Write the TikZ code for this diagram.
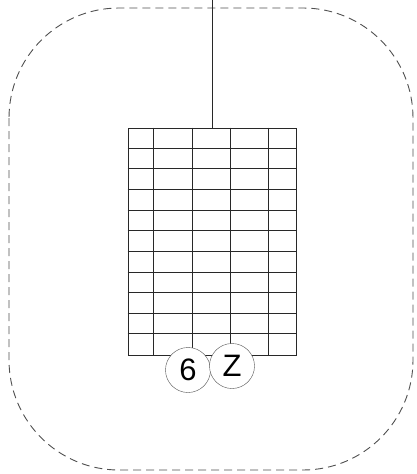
\documentclass[tikz,border=0pt]{standalone}
\usepackage{fontspec}
\setmainfont{Liberation Sans}
\usetikzlibrary{positioning}
\definecolor{frameGray}{RGB}{80,80,80}
\definecolor{gridGray}{RGB}{40,40,40}

\begin{document}
\begin{tikzpicture}[
  x=1pt, y=-1pt,
  frame/.style={draw=frameGray, dash pattern=on 8pt off 5pt, rounded corners=110pt, line width=0.9pt},
  rack/.style={draw=gridGray, minimum width=168pt, minimum height=227pt, inner sep=0pt, line width=0.9pt},
  badge/.style={circle, draw=frameGray, fill=white, minimum size=45pt, inner sep=0pt, font=\fontsize{31}{33}\selectfont}
]
  \useasboundingbox (0,0) rectangle (417,474);
  \draw[frame] (9,8) rectangle (413,470);

  % shelf grid
  \node[rack] (rack) at (212,241.5) {};
  \foreach \cx in {26,65,103,141}
    \draw[gridGray, line width=0.9pt] ([xshift=\cx pt]rack.north west) -- ([xshift=\cx pt]rack.south west);
  \foreach \r in {1,...,10}
    \draw[gridGray, line width=0.9pt] ([yshift=-\r*20.636pt]rack.north west) -- ([yshift=-\r*20.636pt]rack.north east);

  % hanging line
  \coordinate (hook) at (212,0);
  \draw[gridGray, line width=0.9pt] (hook) -- (rack.north);

  % labels
  \node[badge] (six) at (188,370) {6};
  \node[badge] (zed) at (232,366) {Z};
\end{tikzpicture}
\end{document}
